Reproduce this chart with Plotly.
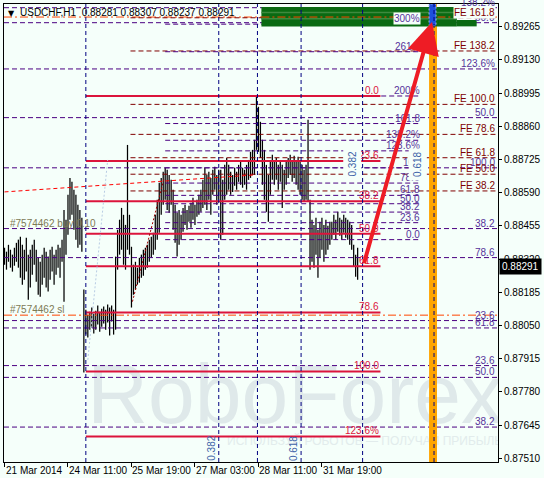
import plotly.graph_objects as go

BG = "#F5FFFA"
FONT = "Liberation Sans, Arial, sans-serif"

header_text = "USDCHF,H1  0.88281 0.88307 0.88237 0.88291"
last_close = 0.88291

# H1 bars (high / low), one per hour
highs = [
    0.88366, 0.88350, 0.88378, 0.88358, 0.88338, 0.88366, 0.88386, 0.88399, 0.88411, 0.88378,
    0.88358, 0.88407, 0.88338, 0.88358, 0.88378, 0.88399, 0.88358, 0.88325, 0.88309, 0.88338,
    0.88366, 0.88350, 0.88330, 0.88358, 0.88370, 0.88338, 0.88358, 0.88378, 0.88366, 0.88399,
    0.88520, 0.88480, 0.88581, 0.88650, 0.88634, 0.88602, 0.88581, 0.88541, 0.88520, 0.88488,
    0.88196, 0.88114, 0.88094, 0.88106, 0.88123, 0.88098, 0.88110, 0.88131, 0.88106, 0.88118,
    0.88127, 0.88114, 0.88135, 0.88123, 0.88131, 0.88114, 0.88330, 0.88439, 0.88480, 0.88528,
    0.88500, 0.88459, 0.88784, 0.88500, 0.88370, 0.88297, 0.88309, 0.88285, 0.88325, 0.88338,
    0.88358, 0.88366, 0.88378, 0.88399, 0.88411, 0.88427, 0.88500, 0.88561, 0.88630, 0.88650,
    0.88675, 0.88691, 0.88683, 0.88662, 0.88642, 0.88602, 0.88541, 0.88508, 0.88520, 0.88500,
    0.88528, 0.88541, 0.88520, 0.88537, 0.88549, 0.88569, 0.88541, 0.88561, 0.88581, 0.88602,
    0.88642, 0.88691, 0.88662, 0.88675, 0.88650, 0.88683, 0.88695, 0.88662, 0.88683, 0.88683,
    0.88642, 0.88703, 0.88731, 0.88703, 0.88675, 0.88662, 0.88691, 0.88675, 0.88703, 0.88715,
    0.88691, 0.88683, 0.88703, 0.88723, 0.88756, 0.88764, 0.88805, 0.88979, 0.88939, 0.88878,
    0.88805, 0.88764, 0.88703, 0.88662, 0.88723, 0.88744, 0.88715, 0.88731, 0.88703, 0.88715,
    0.88703, 0.88683, 0.88723, 0.88731, 0.88744, 0.88723, 0.88740, 0.88715, 0.88736, 0.88723,
    0.88703, 0.88683, 0.88703, 0.88886, 0.88561, 0.88480, 0.88459, 0.88488, 0.88439, 0.88472,
    0.88488, 0.88459, 0.88480, 0.88455, 0.88472, 0.88472, 0.88500, 0.88480, 0.88512, 0.88488,
    0.88480, 0.88500, 0.88488, 0.88480, 0.88472, 0.88459, 0.88378, 0.88338, 0.88366,
]
lows = [
    0.88297, 0.88277, 0.88309, 0.88285, 0.88269, 0.88293, 0.88309, 0.88285, 0.88244, 0.88216,
    0.88236, 0.88269, 0.88155, 0.88204, 0.88256, 0.88297, 0.88228, 0.88175, 0.88167, 0.88216,
    0.88244, 0.88204, 0.88188, 0.88236, 0.88269, 0.88216, 0.88256, 0.88285, 0.88244, 0.88309,
    0.88147, 0.88338, 0.88419, 0.88480, 0.88500, 0.88439, 0.88399, 0.88366, 0.88378, 0.88350,
    0.87859, 0.88013, 0.88001, 0.88033, 0.88041, 0.88017, 0.88033, 0.88054, 0.88025, 0.88045,
    0.88058, 0.88033, 0.88062, 0.88009, 0.88066, 0.88013, 0.88033, 0.88277, 0.88338, 0.88358,
    0.88297, 0.88277, 0.88358, 0.88338, 0.88123, 0.88175, 0.88196, 0.88216, 0.88224, 0.88244,
    0.88252, 0.88277, 0.88285, 0.88309, 0.88325, 0.88338, 0.88358, 0.88399, 0.88427, 0.88500,
    0.88541, 0.88561, 0.88520, 0.88508, 0.88541, 0.88439, 0.88386, 0.88330, 0.88378, 0.88399,
    0.88431, 0.88459, 0.88439, 0.88472, 0.88447, 0.88480, 0.88459, 0.88492, 0.88500, 0.88512,
    0.88528, 0.88541, 0.88520, 0.88561, 0.88500, 0.88581, 0.88602, 0.88541, 0.88561, 0.88399,
    0.88419, 0.88561, 0.88581, 0.88602, 0.88581, 0.88593, 0.88618, 0.88602, 0.88634, 0.88622,
    0.88610, 0.88622, 0.88602, 0.88642, 0.88650, 0.88662, 0.88662, 0.88764, 0.88756, 0.88731,
    0.88622, 0.88561, 0.88512, 0.88472, 0.88581, 0.88642, 0.88622, 0.88642, 0.88602, 0.88634,
    0.88528, 0.88602, 0.88622, 0.88650, 0.88662, 0.88634, 0.88650, 0.88622, 0.88602, 0.88581,
    0.88561, 0.88553, 0.88561, 0.88553, 0.88277, 0.88309, 0.88285, 0.88338, 0.88244, 0.88325,
    0.88358, 0.88309, 0.88338, 0.88358, 0.88378, 0.88399, 0.88419, 0.88399, 0.88431, 0.88415,
    0.88399, 0.88427, 0.88407, 0.88399, 0.88378, 0.88358, 0.88289, 0.88248, 0.88236,
]
bar_index = list(range(len(highs)))

time_ticks = [0, 32, 64, 96, 128, 160]
time_labels = ["21 Mar 2014", "24 Mar 11:00", "25 Mar 19:00", "27 Mar 03:00", "28 Mar 11:00", "31 Mar 19:00"]

price_ticks = [0.87510, 0.87645, 0.87780, 0.87915, 0.88050, 0.88185, 0.88320,
               0.88455, 0.88590, 0.88725, 0.88860, 0.88995, 0.89130, 0.89265]

# Fibonacci retracement (crimson, solid)
fib_red_levels = ["0.0", "23.6", "38.2", "50.0", "61.8", "78.6", "100.0", "123.6%"]
fib_red_prices = [0.88983, 0.88719, 0.88555, 0.88423, 0.88291, 0.88103, 0.87863, 0.87599]
fib_red_from, fib_red_to = 41, 189.5

# Fibonacci retracement (indigo, short)
fib_vio_levels = ["0.0", "23.6", "38.2", "50.0", "61.8", "78.6", "100", "123.6%",
                  "138.2%", "161.8", "200%", "261.8", "300%"]
fib_vio_prices = [0.88399, 0.88468, 0.88511, 0.88545, 0.88579, 0.88629, 0.88691, 0.88760,
                  0.88803, 0.88871, 0.88983, 0.89163, 0.89275]
fib_vio_from, fib_vio_to = 81, 210

# Fibonacci expansion (maroon)
fe_levels = ["FE 38.2", "FE 50.0", "FE 61.8", "FE 78.6", "FE 100.0", "FE 138.2", "FE 161.8"]
fe_prices = [0.88597, 0.88665, 0.88732, 0.88827, 0.88949, 0.89166, 0.89301]
fe_from = 63.5

# long-range Fibonacci levels (indigo, full width)
wide_levels = ["38.2", "50.0", "61.8", "78.6", "100.0", "123.6%", "138.2%",
               "23.6", "38.2", "50.0", "23.6", "50.0"]
wide_prices = [0.87637, 0.87839, 0.88040, 0.88326, 0.88691, 0.89093, 0.89342,
               0.87887, 0.88444, 0.88895, 0.88070, 0.89281]

take_profit = 0.89304
stop_loss = 0.88092
buy_open = 0.88441

time_zone_bars = [41, 108, 127.5, 149.5, 180.5, 216.5]

X0, X1 = -0.25, 248.75
Y0, Y1 = 0.87495, 0.89357

INDIGO = "#4B0082"
INDIGO_TXT = "#55339A"
MAROON = "#800000"
CRIMSON = "#DC143C"
ORANGERED = "#FF4500"
NAVY = "#000080"

fig = go.Figure()

# watermark (beneath everything)
fig.add_trace(go.Scatter(x=[146.5], y=[0.87738], mode="text", text=["RoboForex"],
                         textfont=dict(family=FONT, size=84, color="#DFE9EA"),
                         hoverinfo="skip", showlegend=False))
fig.add_trace(go.Scatter(x=[181.5], y=[0.87576], mode="text",
                         text=["ИСПОЛЬЗУЙ РОБОТОВ — ПОЛУЧАЙ ПРИБЫЛЬ"],
                         textfont=dict(family=FONT, size=12, color="#E2ECEC"),
                         hoverinfo="skip", showlegend=False))

# bars
bx, by = [], []
for i, h, l in zip(bar_index, highs, lows):
    bx += [i, i, None]
    by += [l, h, None]
fig.add_trace(go.Scatter(x=bx, y=by, mode="lines", line=dict(color="black", width=1.25),
                         hoverinfo="skip", showlegend=False))

shapes = []
annos = []


def hline(x0, x1, y, color, width=1, dash="solid"):
    shapes.append(dict(type="line", xref="x", yref="y", x0=x0, x1=x1, y0=y, y1=y,
                       line=dict(color=color, width=width, dash=dash)))


def label(text, x, y, color, bg=None, anchor="right"):
    annos.append(dict(x=x, y=y, xref="x", yref="y", text=text, showarrow=False,
                      xanchor=anchor, yanchor="bottom", borderpad=0, yshift=-1,
                      bgcolor=bg if bg else "rgba(0,0,0,0)",
                      font=dict(family=FONT, size=10, color=color)))


DASH = "5px,3px"

# wide indigo levels
for lv, p in zip(wide_levels, wide_prices):
    hline(X0, X1, p, INDIGO, 1, DASH)
    label(lv, X1 - 0.8, p, INDIGO_TXT)

# order lines
hline(X0, X1, take_profit, ORANGERED, 1, "8px,3px,2px,3px")
hline(X0, X1, stop_loss, ORANGERED, 1, "8px,3px,2px,3px")
label("#7574462 buy 0.10", 2.5, buy_open, "#7D7A55", anchor="left")
label("#7574462 sl", 2.5, stop_loss, "#7D7A55", anchor="left")

# FE
for lv, p in zip(fe_levels, fe_prices):
    hline(fe_from, X1, p, MAROON, 1, DASH)

# short indigo fibo
for lv, p in zip(fib_vio_levels, fib_vio_prices):
    hline(fib_vio_from, fib_vio_to, p, INDIGO, 1, DASH)
    label(lv, fib_vio_to, p, INDIGO_TXT, bg=BG if lv == "300%" else None)

# red fibo
for lv, p in zip(fib_red_levels, fib_red_prices):
    hline(fib_red_from, fib_red_to, p, CRIMSON, 2)
    label(lv, fib_red_to, p, CRIMSON)

# trend lines
shapes.append(dict(type="line", xref="x", yref="y", x0=0, y0=0.88593, x1=126, y1=0.88662,
                   line=dict(color="#FF0000", width=1, dash="4px,3px")))
shapes.append(dict(type="line", xref="x", yref="y", x0=64.5, y0=0.88147, x1=80.5, y1=0.88650,
                   line=dict(color="#A00000", width=1, dash="2px,2px")))
shapes.append(dict(type="line", xref="x", yref="y", x0=42, y0=0.87910, x1=52, y1=0.88723,
                   line=dict(color="#B8CCE4", width=1, dash="2px,2px")))

# orange time band and top boxes
shapes.append(dict(type="rect", xref="x", yref="paper", x0=214, x1=218, y0=0, y1=1,
                   fillcolor="#FFA500", line=dict(width=0)))
shapes.append(dict(type="rect", xref="x", yref="y", x0=129.5, x1=228, y0=0.89266, y1=0.89345,
                   fillcolor="#0A6A12", line=dict(width=0)))
shapes.append(dict(type="rect", xref="x", yref="y", x0=228, x1=238, y0=0.89266, y1=0.89292,
                   fillcolor="#0A6A12", line=dict(width=0)))
for a, b in [(0.89319, 0.89325), (0.89294, 0.89300)]:
    shapes.append(dict(type="rect", xref="x", yref="y", x0=129.5, x1=228, y0=a, y1=b,
                       fillcolor="#3E8A3E", line=dict(width=0)))
hline(129.5, 228, take_profit, ORANGERED, 1, "8px,3px,2px,3px")
shapes.append(dict(type="rect", xref="x", yref="y", x0=214, x1=217.5, y0=0.89269, y1=Y1,
                   fillcolor="#1E50DC", line=dict(color="#9DB4F0", width=1, dash="2px,2px")))

# time zone lines
for b in time_zone_bars:
    shapes.append(dict(type="line", xref="x", yref="paper", x0=b, x1=b, y0=0, y1=1,
                       line=dict(color=NAVY, width=1, dash="4px,3px")))

label("FE 161.8", X1 - 0.8, fe_prices[-1], MAROON, bg=BG)
for lv, p in zip(fe_levels[:-1], fe_prices[:-1]):
    label(lv, X1 - 0.8, p, MAROON)

# time zone labels
TZC = "#3D62A8"
for txt, b in [("0.382", 108), ("0.618", 149.5)]:
    annos.append(dict(x=b, y=0, xref="x", yref="paper", text=txt, showarrow=False, textangle=-90,
                      xanchor="right", yanchor="bottom", xshift=-1, borderpad=0,
                      font=dict(family=FONT, size=10, color=TZC)))
for txt, b in [("0.382", 180.5), ("0.618", 213.5)]:
    annos.append(dict(x=b, y=0.88705, xref="x", yref="y", text=txt, showarrow=False, textangle=-90,
                      xanchor="right", yanchor="middle", xshift=-1, borderpad=3, bgcolor=BG,
                      font=dict(family=FONT, size=10, color=TZC)))

# arrow
annos.append(dict(x=215.5, y=0.89284, ax=181, ay=0.88297, xref="x", yref="y", axref="x", ayref="y",
                  text="", showarrow=True, arrowhead=2, arrowsize=1.6, arrowwidth=4,
                  arrowcolor="#EE1C25", standoff=0))

# x tick labels (left aligned on the tick, as in the terminal)
for t, txt in zip(time_ticks, time_labels):
    annos.append(dict(x=t, y=0, xref="x", yref="paper", text=txt, showarrow=False,
                      xanchor="left", yanchor="top", xshift=-1, yshift=-1,
                      font=dict(family=FONT, size=10, color="black")))

# header
annos.append(dict(x=0, y=1, xref="paper", yref="paper", text="▼", showarrow=False,
                  xanchor="left", yanchor="top", xshift=2, yshift=-3,
                  font=dict(family="DejaVu Sans", size=8, color="black")))
annos.append(dict(x=0, y=1, xref="paper", yref="paper", text=header_text, showarrow=False,
                  xanchor="left", yanchor="top", xshift=14, yshift=-1,
                  font=dict(family=FONT, size=10, color="black")))

# last price box
annos.append(dict(x=1, y=last_close, xref="paper", yref="y", text=f"{last_close:.5f}", showarrow=False,
                  xanchor="left", yanchor="middle", xshift=1, bgcolor="black", borderpad=2,
                  font=dict(family=FONT, size=10, color="white")))

fig.update_layout(
    width=544, height=478,
    margin=dict(l=3, r=43, t=3, b=16),
    paper_bgcolor=BG, plot_bgcolor=BG,
    showlegend=False,
    shapes=shapes, annotations=annos,
    xaxis=dict(range=[X0, X1], showgrid=False, zeroline=False, showline=True, mirror=True,
               linecolor="black", linewidth=1, ticks="outside", ticklen=4, tickcolor="black",
               tickvals=time_ticks, showticklabels=False, fixedrange=True),
    yaxis=dict(range=[Y0, Y1], side="right", showgrid=False, zeroline=False, showline=True,
               mirror=True, linecolor="black", linewidth=1, ticks="outside", ticklen=3,
               tickcolor="black", tickvals=price_ticks, ticktext=[f"{v:.5f}" for v in price_ticks],
               tickfont=dict(family=FONT, size=10, color="black"), fixedrange=True),
)

page_fix = ("document.body.style.margin='0';document.body.style.padding='0';"
            "document.documentElement.style.overflow='hidden';")
fig.write_html("out.html", post_script=page_fix, config={"displayModeBar": False})
